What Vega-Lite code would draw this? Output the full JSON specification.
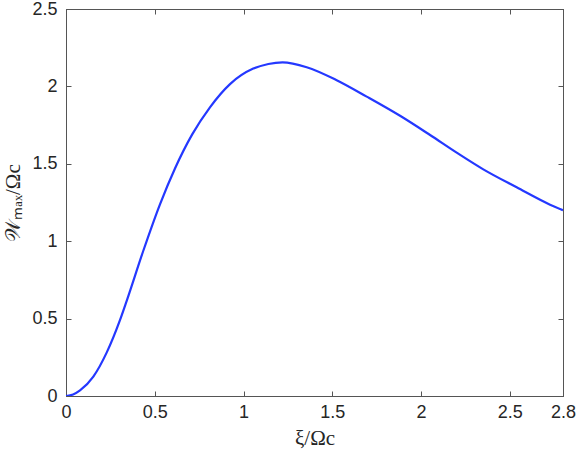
{
  "$schema": "https://vega.github.io/schema/vega-lite/v6.json",
  "width": 497,
  "height": 387,
  "autosize": {"type": "none"},
  "padding": {"left": 66, "top": 9, "right": 13, "bottom": 59},
  "background": "white",
  "config": {
    "view": {"stroke": "#555555", "strokeWidth": 1},
    "axis": {
      "domainColor": "#555555",
      "tickColor": "#555555",
      "tickSize": -5,
      "labelColor": "#262626",
      "labelFont": "Liberation Sans",
      "labelFontSize": 18,
      "titleColor": "#262626",
      "titleFont": "Liberation Serif",
      "titleFontSize": 21,
      "titleFontWeight": "normal",
      "grid": false
    }
  },
  "data": {"values": [
    {"xi": 0.0, "w": 0.0},
    {"xi": 0.04, "w": 0.01},
    {"xi": 0.079, "w": 0.036},
    {"xi": 0.154, "w": 0.125},
    {"xi": 0.229, "w": 0.28},
    {"xi": 0.304, "w": 0.49},
    {"xi": 0.342, "w": 0.615},
    {"xi": 0.436, "w": 0.94},
    {"xi": 0.53, "w": 1.24},
    {"xi": 0.614, "w": 1.47},
    {"xi": 0.711, "w": 1.69},
    {"xi": 0.811, "w": 1.865},
    {"xi": 0.924, "w": 2.015},
    {"xi": 1.055, "w": 2.115},
    {"xi": 1.14, "w": 2.145},
    {"xi": 1.22, "w": 2.155},
    {"xi": 1.356, "w": 2.124},
    {"xi": 1.525, "w": 2.04},
    {"xi": 1.694, "w": 1.934},
    {"xi": 1.882, "w": 1.81},
    {"xi": 2.051, "w": 1.686},
    {"xi": 2.201, "w": 1.572},
    {"xi": 2.351, "w": 1.464},
    {"xi": 2.539, "w": 1.348},
    {"xi": 2.727, "w": 1.236},
    {"xi": 2.8, "w": 1.20}
  ]},
  "layer": [
    {
      "mark": {"type": "line", "color": "#2438ff", "strokeWidth": 2.2, "interpolate": "monotone", "clip": true},
      "encoding": {
        "x": {"field": "xi", "type": "quantitative",
              "scale": {"domain": [0, 2.8], "nice": false, "zero": false},
              "axis": {"title": "ξ/Ωc", "format": "~g", "values": [0, 0.5, 1, 1.5, 2, 2.5, 2.8], "labelPadding": 12, "titlePadding": 6, "labelFlush": false, "labelOverlap": false}},
        "y": {"field": "w", "type": "quantitative",
              "scale": {"domain": [0, 2.5], "nice": false},
              "axis": {"title": "𝒲ₘₐₓ/Ωc", "format": "~g", "values": [0, 0.5, 1, 1.5, 2, 2.5], "labelPadding": 14, "titlePadding": 8, "labelFlush": false, "labelOverlap": false}}
      }
    },
    {
      "mark": {"type": "line", "opacity": 0},
      "encoding": {
        "x": {"field": "xi", "type": "quantitative",
              "axis": {"orient": "top", "title": null, "labels": false, "values": [0, 0.5, 1, 1.5, 2, 2.5, 2.8]}},
        "y": {"field": "w", "type": "quantitative",
              "axis": {"orient": "right", "title": null, "labels": false, "values": [0, 0.5, 1, 1.5, 2, 2.5]}}
      }
    }
  ],
  "resolve": {"axis": {"x": "independent", "y": "independent"}}
}
